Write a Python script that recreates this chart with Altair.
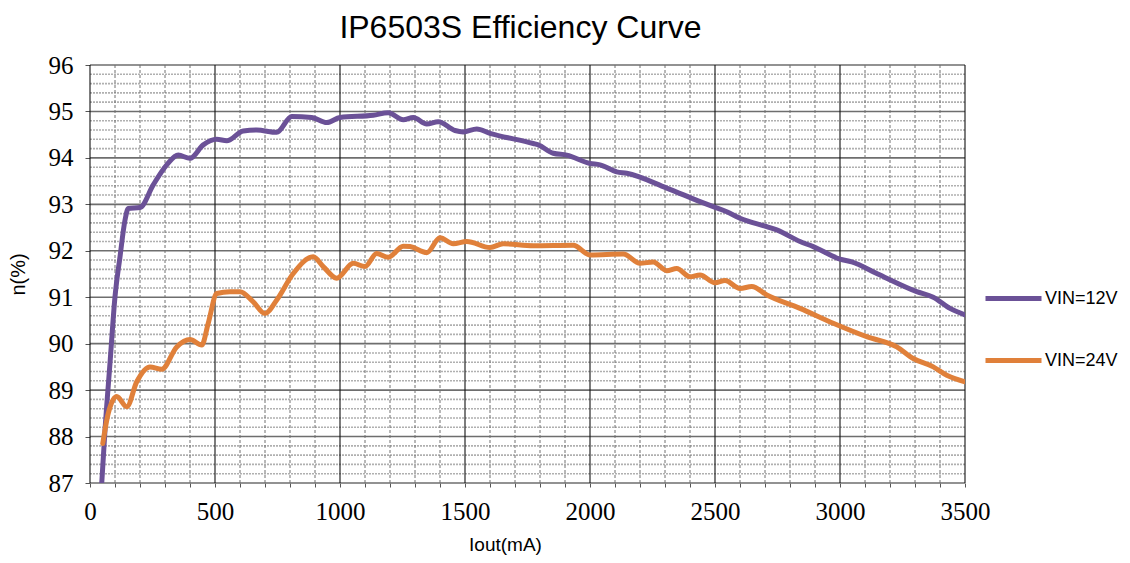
import altair as alt
import pandas as pd

# ---- data ----
x_12v = [47, 60, 80, 100, 120, 140, 153, 200, 253, 307, 353, 400, 453, 507, 547, 613,
         667, 747, 807, 887, 947, 1000, 1133, 1193, 1253, 1293, 1347, 1393, 1460, 1493,
         1547, 1600, 1773, 1793, 1853, 1907, 2000, 2040, 2107, 2147, 2307, 2440, 2493,
         2547, 2600, 2707, 2747, 2840, 2893, 3000, 3047, 3147, 3307, 3373, 3440, 3500]
y_12v = [87.0, 88.14, 89.58, 91.01, 91.87, 92.66, 92.91, 92.93, 93.42, 93.85, 94.06, 93.99,
         94.28, 94.40, 94.37, 94.58, 94.60, 94.55, 94.89, 94.87, 94.76, 94.87, 94.92, 94.97,
         94.82, 94.87, 94.73, 94.78, 94.59, 94.56, 94.62, 94.53, 94.31, 94.28, 94.10, 94.06,
         93.88, 93.85, 93.70, 93.67, 93.35, 93.06, 92.95, 92.84, 92.70, 92.52, 92.45, 92.20,
         92.09, 91.82, 91.76, 91.51, 91.12, 91.00, 90.76, 90.62]

x_24v = [51, 73, 107, 147, 187, 240, 287, 347, 400, 447, 473, 507, 560, 600, 653, 700, 747,
         813, 893, 933, 987, 1053, 1100, 1147, 1193, 1253, 1280, 1347, 1400, 1453, 1507,
         1600, 1653, 1773, 1933, 2000, 2133, 2200, 2253, 2307, 2347, 2400, 2440, 2500, 2540,
         2600, 2647, 2707, 2840, 2973, 3107, 3227, 3293, 3373, 3427, 3500]
y_24v = [87.85, 88.5, 88.86, 88.64, 89.18, 89.5, 89.45, 89.93, 90.09, 89.97, 90.44, 91.08,
         91.12, 91.12, 90.9, 90.65, 90.94, 91.51, 91.87, 91.66, 91.41, 91.73, 91.66, 91.94,
         91.86, 92.1, 92.09, 91.96, 92.28, 92.15, 92.2, 92.07, 92.15, 92.11, 92.12, 91.91,
         91.93, 91.73, 91.76, 91.57, 91.62, 91.44, 91.48, 91.31, 91.36, 91.19, 91.23, 91.05,
         90.76, 90.44, 90.15, 89.93, 89.68, 89.5, 89.32, 89.18]

series_names = ["VIN=12V", "VIN=24V"]
series_colors = ["#6B5197", "#E0803A"]

x_major = [0, 500, 1000, 1500, 2000, 2500, 3000, 3500]
x_minor = [v for v in range(0, 3501, 100) if v % 500 != 0]
y_major = [87, 88, 89, 90, 91, 92, 93, 94, 95, 96]
y_minor = [round(87 + i * 0.2, 1) for i in range(46) if i % 5 != 0]
x_ticks = list(range(0, 3501, 100))

# ---- tables ----
df = pd.concat([
    pd.DataFrame({"Iout": x_12v, "eff": y_12v, "series": series_names[0]}),
    pd.DataFrame({"Iout": x_24v, "eff": y_24v, "series": series_names[1]}),
])

xs = alt.Scale(domain=[0, 3500], nice=False, zero=False)
ys = alt.Scale(domain=[87, 96], nice=False, zero=False)

sans = "Liberation Sans"
serif = "Liberation Serif"

x_axis = alt.Axis(values=x_ticks, grid=False, domain=False, labelFlush=False,
                  labelExpr="datum.value % 500 == 0 ? datum.label : ''",
                  format="d", tickSize=4, tickColor="#555",
                  labelFont=serif, labelFontSize=25, labelColor="#000",
                  labelPadding=12, titleFont=sans, titleFontSize=19,
                  titleFontWeight="normal", titleColor="#000",
                  titlePadding=11, titleX=415)
y_axis = alt.Axis(values=y_major, grid=False, domain=False, labelFlush=False,
                  format="d", tickSize=5, tickColor="#555",
                  labelFont=serif, labelFontSize=25, labelColor="#000",
                  labelPadding=12, titleFont=sans, titleFontSize=20,
                  titleFontWeight="normal", titleColor="#000",
                  titlePadding=20)


def X():
    return alt.X("Iout:Q", scale=xs, title="Iout(mA)", axis=x_axis)


def Y():
    return alt.Y("eff:Q", scale=ys, title="n(%)", axis=y_axis)


# grid lines
minor_y = alt.Chart(pd.DataFrame({"eff": y_minor})).mark_rule(
    color="#b0b0b0", strokeWidth=1.6, strokeDash=[2, 1]
).encode(y=Y())

minor_x = alt.Chart(pd.DataFrame({"Iout": x_minor})).mark_rule(
    color="#707070", strokeWidth=1, strokeDash=[3, 2]
).encode(x=X())

major_y = alt.Chart(pd.DataFrame({"eff": y_major})).mark_rule(
    color="#6e6e6e", strokeWidth=1.6
).encode(y=Y())

major_x = alt.Chart(pd.DataFrame({"Iout": x_major})).mark_rule(
    color="#111111", strokeWidth=1.1
).encode(x=X())

lines = alt.Chart(df).mark_line(
    strokeWidth=5, interpolate="monotone", clip=True, strokeCap="round"
).encode(
    x=X(),
    y=Y(),
    color=alt.Color("series:N",
                    scale=alt.Scale(domain=series_names, range=series_colors),
                    legend=alt.Legend(title=None, orient="none", legendX=893,
                                      legendY=203, symbolType="stroke",
                                      symbolSize=3136, symbolStrokeWidth=5,
                                      labelFont=sans, labelFontSize=18,
                                      labelColor="#000", labelOffset=1,
                                      rowPadding=21, padding=0)),
    order=alt.Order("Iout:Q"),
)

chart = alt.layer(minor_y, minor_x, major_y, major_x, lines).properties(
    width=875, height=418,
    title=alt.TitleParams("IP6503S Efficiency Curve", font=sans, fontSize=32,
                          fontWeight="normal", color="#000", anchor="middle",
                          offset=8, dx=-7),
    autosize=alt.AutoSizeParams(type="none"),
    padding={"left": 82, "top": 57, "right": 157, "bottom": 72},
).configure_view(stroke=None).configure_axis(labelFont=serif, titleFont=sans)

chart.save("out.html", embed_options={"renderer": "svg", "actions": False})
